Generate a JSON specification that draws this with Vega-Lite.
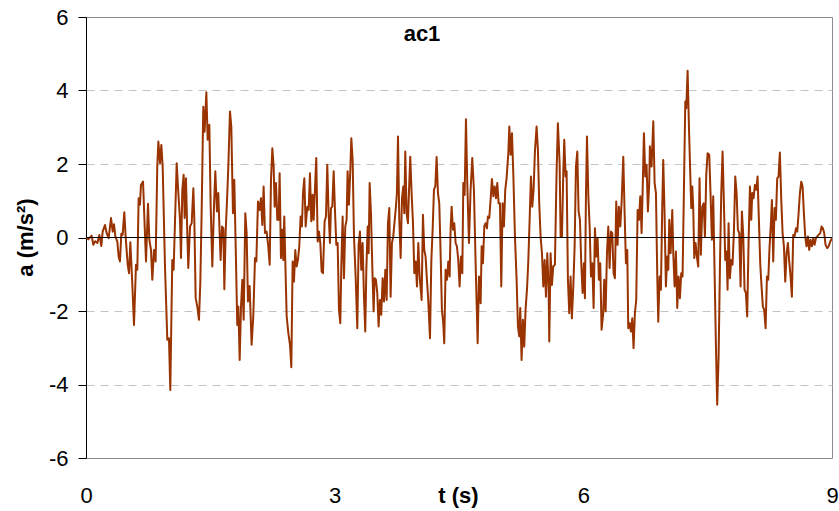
{
  "$schema": "https://vega.github.io/schema/vega-lite/v6.json",
  "width": 746,
  "height": 441,
  "autosize": {"type": "none"},
  "padding": {"left": 86, "top": 17, "right": 7, "bottom": 53},
  "background": "white",
  "title": {"text": "ac1", "font": "Liberation Sans", "fontSize": 22, "fontWeight": "bold", "color": "#000000", "anchor": "middle", "frame": "group", "baseline": "alphabetic", "offset": -35, "dy": 22, "dx": -37},
  "config": {
    "view": {"stroke": "#8c8c8c", "strokeWidth": 1},
    "axis": {"labelFont": "Liberation Sans", "titleFont": "Liberation Sans", "labelColor": "#000000", "titleColor": "#000000"}
  },
  "data": {"values": [
{"t":0.000,"a":0},{"t":0.028,"a":-0.05},{"t":0.068,"a":0.05},{"t":0.088,"a":-0.2},{"t":0.109,"a":-0.1},{"t":0.137,"a":-0.15},{"t":0.161,"a":0.07},{"t":0.185,"a":-0.23},{"t":0.201,"a":0.16},{"t":0.229,"a":0.34},{"t":0.249,"a":0.12},{"t":0.273,"a":-0.02},{"t":0.302,"a":0.53},{"t":0.322,"a":0.16},{"t":0.338,"a":0.36},{"t":0.354,"a":0.03},{"t":0.378,"a":-0.11},{"t":0.394,"a":-0.52},{"t":0.410,"a":-0.65},{"t":0.426,"a":0.1},{"t":0.442,"a":0.07},{"t":0.462,"a":0.69},{"t":0.478,"a":0.03},{"t":0.503,"a":-0.74},{"t":0.519,"a":-0.97},{"t":0.535,"a":-0.13},{"t":0.559,"a":-1.29},{"t":0.579,"a":-2.38},{"t":0.603,"a":-0.74},{"t":0.619,"a":-0.88},{"t":0.635,"a":1.07},{"t":0.651,"a":0.89},{"t":0.663,"a":1.43},{"t":0.688,"a":1.52},{"t":0.708,"a":0.3},{"t":0.724,"a":-0.65},{"t":0.748,"a":0.92},{"t":0.764,"a":-0.06},{"t":0.784,"a":-0.34},{"t":0.800,"a":-1.15},{"t":0.820,"a":-0.34},{"t":0.840,"a":-0.65},{"t":0.860,"a":1.93},{"t":0.873,"a":2.61},{"t":0.893,"a":2.02},{"t":0.909,"a":2.52},{"t":0.925,"a":1.93},{"t":0.953,"a":-0.79},{"t":0.981,"a":-2.78},{"t":1.001,"a":-2.74},{"t":1.017,"a":-4.15},{"t":1.041,"a":-0.61},{"t":1.057,"a":-0.88},
{"t":1.094,"a":2.02},{"t":1.114,"a":1.21},{"t":1.134,"a":0.48},{"t":1.146,"a":-0.56},{"t":1.162,"a":1.3},{"t":1.178,"a":1.71},{"t":1.190,"a":0.53},{"t":1.206,"a":1.61},{"t":1.222,"a":0.12},{"t":1.234,"a":-0.83},{"t":1.255,"a":0.3},{"t":1.275,"a":0.39},{"t":1.295,"a":1.34},{"t":1.307,"a":0.48},{"t":1.323,"a":-1.65},{"t":1.343,"a":-1.88},{"t":1.363,"a":-2.24},{"t":1.379,"a":-1.24},{"t":1.395,"a":0.66},{"t":1.415,"a":3.56},{"t":1.431,"a":2.88},{"t":1.452,"a":3.95},{"t":1.468,"a":2.66},{"t":1.488,"a":3.07},{"t":1.504,"a":0.84},{"t":1.524,"a":-0.79},{"t":1.544,"a":0.84},{"t":1.560,"a":1.8},{"t":1.580,"a":0.71},{"t":1.596,"a":1.21},{"t":1.612,"a":0.12},{"t":1.624,"a":-0.61},{"t":1.641,"a":0.3},{"t":1.657,"a":0.25},{"t":1.669,"a":-1.41},{"t":1.685,"a":0.16},{"t":1.705,"a":1.21},{"t":1.717,"a":1.93},{"t":1.737,"a":3.43},{"t":1.753,"a":3.02},{"t":1.773,"a":0.66},{"t":1.789,"a":1.57},{"t":1.805,"a":-0.15},{"t":1.825,"a":-2.38},{"t":1.838,"a":-1.88},{"t":1.854,"a":-3.33},{"t":1.870,"a":-1.88},{"t":1.886,"a":-1.15},{"t":1.902,"a":-2.24},{"t":1.922,"a":0.66},{"t":1.938,"a":0.12},{"t":1.954,"a":-1.74},{"t":1.974,"a":-1.32},{"t":1.998,"a":-2.92},{"t":2.018,"a":-2.15},{"t":2.039,"a":-0.56},{"t":2.055,"a":-0.65},{"t":2.075,"a":0.98},{"t":2.095,"a":0.75},{"t":2.111,"a":1.07},{"t":2.127,"a":0.34},{"t":2.143,"a":1.39},{"t":2.159,"a":0.12},{"t":2.179,"a":0.16},{"t":2.199,"a":-0.24},{"t":2.216,"a":-0.74},
{"t":2.232,"a":1.57},{"t":2.248,"a":2.43},{"t":2.264,"a":1.93},{"t":2.276,"a":0.84},{"t":2.292,"a":1.48},{"t":2.308,"a":0.48},{"t":2.324,"a":0.48},{"t":2.336,"a":1.75},{"t":2.352,"a":-0.56},{"t":2.368,"a":0.21},{"t":2.380,"a":-0.61},{"t":2.392,"a":0.57},{"t":2.404,"a":-0.61},{"t":2.421,"a":-2.15},{"t":2.441,"a":-2.6},{"t":2.461,"a":-2.92},{"t":2.477,"a":-3.53},{"t":2.493,"a":-0.65},{"t":2.509,"a":-1.2},{"t":2.525,"a":-0.34},{"t":2.541,"a":-0.79},{"t":2.557,"a":-0.61},{"t":2.573,"a":-0.24},{"t":2.589,"a":0.57},{"t":2.605,"a":0.3},{"t":2.618,"a":1.21},{"t":2.634,"a":1.61},{"t":2.650,"a":0.3},{"t":2.670,"a":0.84},{"t":2.686,"a":0.75},{"t":2.702,"a":1.75},{"t":2.718,"a":0.44},{"t":2.734,"a":1.16},{"t":2.746,"a":0.48},{"t":2.762,"a":1.3},{"t":2.778,"a":2.16},{"t":2.795,"a":-0.11},{"t":2.811,"a":0.16},{"t":2.827,"a":-0.15},{"t":2.843,"a":-0.93},{"t":2.859,"a":-0.97},{"t":2.879,"a":0.44},{"t":2.895,"a":0.57},{"t":2.911,"a":1.98},{"t":2.927,"a":0.66},{"t":2.943,"a":-0.15},{"t":2.955,"a":0.8},{"t":2.971,"a":0.84},{"t":2.988,"a":1.8},{"t":3.004,"a":0.71},{"t":3.020,"a":-0.2},{"t":3.036,"a":-0.15},{"t":3.052,"a":-1.97},{"t":3.068,"a":-2.33},{"t":3.080,"a":-0.79},{"t":3.096,"a":0.57},{"t":3.112,"a":-1.11},{"t":3.128,"a":0.3},{"t":3.144,"a":0.48},{"t":3.156,"a":1.8},{"t":3.172,"a":0.89},{"t":3.189,"a":1.84},{"t":3.201,"a":2.7},{"t":3.217,"a":2.11},{"t":3.233,"a":0.03},{"t":3.253,"a":-1.06},{"t":3.273,"a":-2.47},{"t":3.289,"a":-0.2},{"t":3.305,"a":0.16},{"t":3.321,"a":-0.88},{"t":3.337,"a":-0.15},{"t":3.353,"a":-1.56},{"t":3.369,"a":-2.56},
{"t":3.382,"a":-0.88},{"t":3.398,"a":0.3},{"t":3.410,"a":-0.43},{"t":3.422,"a":1.48},{"t":3.438,"a":0.66},{"t":3.454,"a":-0.79},{"t":3.470,"a":-2.01},{"t":3.482,"a":-1.11},{"t":3.498,"a":-1.15},{"t":3.514,"a":-1.51},{"t":3.530,"a":-2.42},{"t":3.546,"a":-1.7},{"t":3.562,"a":-2.1},{"t":3.579,"a":-1.11},{"t":3.595,"a":-1.74},{"t":3.611,"a":-0.88},{"t":3.627,"a":-1.7},{"t":3.643,"a":0.39},{"t":3.659,"a":0.8},{"t":3.675,"a":-1.61},{"t":3.691,"a":-0.15},{"t":3.707,"a":0.03},{"t":3.723,"a":0.44},{"t":3.739,"a":0.84},{"t":3.751,"a":1.21},{"t":3.764,"a":2.75},{"t":3.780,"a":0.44},{"t":3.796,"a":-0.56},{"t":3.812,"a":1.07},{"t":3.828,"a":1.39},{"t":3.840,"a":0.66},{"t":3.852,"a":2.34},{"t":3.868,"a":0.66},{"t":3.884,"a":0.39},{"t":3.896,"a":1.21},{"t":3.912,"a":2.2},{"t":3.928,"a":1.21},{"t":3.945,"a":0.39},{"t":3.961,"a":-0.97},{"t":3.977,"a":-0.65},{"t":3.993,"a":-1.33},{"t":4.009,"a":-0.15},{"t":4.025,"a":-1.06},{"t":4.049,"a":-1.7},{"t":4.065,"a":0.62},{"t":4.081,"a":-0.34},{"t":4.097,"a":-0.52},{"t":4.113,"a":-1.15},{"t":4.129,"a":-1.7},{"t":4.150,"a":-2.74},{"t":4.166,"a":-0.65},{"t":4.182,"a":0.21},{"t":4.198,"a":1.3},{"t":4.214,"a":1.39},{"t":4.230,"a":2.19},{"t":4.246,"a":1.21},{"t":4.262,"a":0.93},{"t":4.278,"a":-0.43},{"t":4.294,"a":-1.97},{"t":4.310,"a":-2.33},{"t":4.322,"a":-2.88},{"t":4.338,"a":-0.88},{"t":4.355,"a":-1.15},{"t":4.371,"a":-0.65},{"t":4.387,"a":-1.06},{"t":4.399,"a":0.25},{"t":4.411,"a":0.84},{"t":4.427,"a":0.21},{"t":4.443,"a":0.39},{"t":4.459,"a":-0.15},{"t":4.475,"a":-0.24},{"t":4.491,"a":-0.61},{"t":4.507,"a":-1.33},
{"t":4.523,"a":-0.52},{"t":4.540,"a":-0.97},{"t":4.552,"a":1.48},{"t":4.568,"a":1.16},{"t":4.584,"a":3.22},{"t":4.600,"a":1.48},{"t":4.620,"a":-0.15},{"t":4.640,"a":1.3},{"t":4.660,"a":2.16},{"t":4.680,"a":1.3},{"t":4.700,"a":-0.65},{"t":4.725,"a":-2.88},{"t":4.741,"a":-1.06},{"t":4.761,"a":-1.79},{"t":4.773,"a":-0.24},{"t":4.789,"a":-0.7},{"t":4.805,"a":0.3},{"t":4.821,"a":0.39},{"t":4.837,"a":0.25},{"t":4.849,"a":0.57},{"t":4.865,"a":0.53},{"t":4.881,"a":1.02},{"t":4.897,"a":1.59},{"t":4.914,"a":1.12},{"t":4.930,"a":1.39},{"t":4.946,"a":1.07},{"t":4.962,"a":1.48},{"t":4.978,"a":0.93},{"t":4.994,"a":0.93},{"t":5.010,"a":-1.33},{"t":5.026,"a":0.93},{"t":5.042,"a":0.3},{"t":5.058,"a":1.3},{"t":5.074,"a":1.61},{"t":5.095,"a":2.29},{"t":5.107,"a":3.02},{"t":5.123,"a":2.25},{"t":5.139,"a":2.84},{"t":5.155,"a":1.75},{"t":5.175,"a":0.03},{"t":5.195,"a":-1.15},{"t":5.211,"a":-2.42},{"t":5.227,"a":-2.69},{"t":5.239,"a":-1.92},{"t":5.255,"a":-3.33},{"t":5.271,"a":-2.24},{"t":5.287,"a":-2.97},{"t":5.304,"a":-1.92},{"t":5.320,"a":-1.42},{"t":5.336,"a":-0.65},{"t":5.352,"a":0.48},{"t":5.368,"a":1.66},{"t":5.384,"a":0.84},{"t":5.400,"a":1.3},{"t":5.416,"a":2.34},{"t":5.436,"a":3.02},{"t":5.452,"a":2.39},{"t":5.468,"a":0.93},{"t":5.484,"a":0.03},{"t":5.501,"a":-0.43},{"t":5.517,"a":-1.33},{"t":5.533,"a":-0.61},{"t":5.549,"a":-1.61},{"t":5.565,"a":-0.43},{"t":5.581,"a":-1.33},{"t":5.589,"a":-2.83},{"t":5.605,"a":-0.43},{"t":5.621,"a":-1.29},{"t":5.637,"a":-0.79},
{"t":5.657,"a":-0.74},{"t":5.677,"a":1.75},{"t":5.693,"a":3.11},{"t":5.714,"a":2.02},{"t":5.726,"a":0.03},{"t":5.742,"a":0.03},{"t":5.758,"a":1.75},{"t":5.770,"a":2.66},{"t":5.786,"a":1.66},{"t":5.798,"a":1.8},{"t":5.814,"a":-1.15},{"t":5.830,"a":-2.06},{"t":5.846,"a":-1.06},{"t":5.862,"a":-2.2},{"t":5.879,"a":-1.33},{"t":5.895,"a":-0.24},{"t":5.911,"a":1.93},{"t":5.927,"a":2.34},{"t":5.943,"a":0.71},{"t":5.959,"a":0.48},{"t":5.975,"a":-0.7},{"t":5.991,"a":-1.51},{"t":6.007,"a":-0.7},{"t":6.019,"a":-1.65},{"t":6.032,"a":1.21},{"t":6.044,"a":2.75},{"t":6.060,"a":1.16},{"t":6.076,"a":0.3},{"t":6.092,"a":-1.06},{"t":6.108,"a":-0.7},{"t":6.124,"a":-1.92},{"t":6.140,"a":0.25},{"t":6.156,"a":-0.52},{"t":6.172,"a":-0.02},{"t":6.188,"a":-1.15},{"t":6.204,"a":-0.7},{"t":6.220,"a":-2.51},{"t":6.240,"a":-2.06},{"t":6.252,"a":-1.15},{"t":6.269,"a":-2.01},{"t":6.285,"a":-0.43},{"t":6.301,"a":0.3},{"t":6.317,"a":-0.83},{"t":6.333,"a":0.16},{"t":6.349,"a":0.12},{"t":6.365,"a":-0.97},{"t":6.381,"a":-1.11},{"t":6.397,"a":0.98},{"t":6.413,"a":-0.2},{"t":6.429,"a":0.84},{"t":6.446,"a":0.3},{"t":6.462,"a":0.98},{"t":6.482,"a":2.2},{"t":6.498,"a":0.66},{"t":6.514,"a":-0.7},{"t":6.530,"a":-0.34},{"t":6.542,"a":-2.47},{"t":6.558,"a":-2.33},{"t":6.574,"a":-2.56},{"t":6.590,"a":-2.2},{"t":6.606,"a":-3.01},{"t":6.622,"a":-2.06},{"t":6.638,"a":-1.7},{"t":6.655,"a":0.75},{"t":6.671,"a":0.48},{"t":6.687,"a":1.12},{"t":6.703,"a":0.12},{"t":6.719,"a":1.61},{"t":6.731,"a":2.84},{"t":6.747,"a":1.66},{"t":6.763,"a":1.98},{"t":6.779,"a":0.71},{"t":6.795,"a":1.48},
{"t":6.803,"a":2.48},{"t":6.823,"a":1.93},{"t":6.844,"a":3.16},{"t":6.860,"a":1.48},{"t":6.876,"a":1.21},{"t":6.892,"a":-1.06},{"t":6.904,"a":-2.29},{"t":6.920,"a":-1.06},{"t":6.936,"a":-1.42},{"t":6.952,"a":0.84},{"t":6.964,"a":2.11},{"t":6.980,"a":0.66},{"t":6.996,"a":-1.33},{"t":7.012,"a":-0.52},{"t":7.025,"a":-0.88},{"t":7.037,"a":0.48},{"t":7.053,"a":-0.43},{"t":7.073,"a":0.75},{"t":7.085,"a":-0.43},{"t":7.101,"a":-1.33},{"t":7.117,"a":-0.38},{"t":7.133,"a":-1.92},{"t":7.149,"a":-1.06},{"t":7.165,"a":-1.65},{"t":7.181,"a":-0.97},{"t":7.197,"a":-1.06},{"t":7.213,"a":1.21},{"t":7.230,"a":3.7},{"t":7.242,"a":3.52},{"t":7.258,"a":4.54},{"t":7.274,"a":3.02},{"t":7.290,"a":1.75},{"t":7.302,"a":0.8},{"t":7.314,"a":1.39},{"t":7.326,"a":0.8},{"t":7.338,"a":-0.56},{"t":7.354,"a":-0.15},{"t":7.370,"a":-0.52},{"t":7.386,"a":-0.79},{"t":7.402,"a":1.61},{"t":7.418,"a":-0.47},{"t":7.435,"a":0.84},{"t":7.451,"a":0.93},{"t":7.467,"a":0.03},{"t":7.483,"a":1.71},{"t":7.499,"a":2.29},{"t":7.519,"a":2.25},{"t":7.535,"a":1.16},{"t":7.551,"a":-0.06},{"t":7.567,"a":1.12},{"t":7.583,"a":-0.88},{"t":7.599,"a":-2.88},{"t":7.615,"a":-4.55},{"t":7.632,"a":-3.24},{"t":7.648,"a":-0.79},{"t":7.664,"a":1.21},{"t":7.680,"a":2.34},{"t":7.696,"a":0.93},{"t":7.712,"a":-0.61},{"t":7.728,"a":-0.38},{"t":7.740,"a":-1.42},{"t":7.752,"a":0.39},{"t":7.768,"a":-1.11},{"t":7.784,"a":-0.61},{"t":7.800,"a":-0.74},{"t":7.816,"a":0.12},{"t":7.833,"a":1.66},{"t":7.849,"a":1.21},{"t":7.865,"a":0.21},{"t":7.881,"a":0.12},{"t":7.897,"a":-1.33},{"t":7.913,"a":0.71},{"t":7.929,"a":0.07},{"t":7.945,"a":-1.42},
{"t":7.961,"a":-1.51},{"t":7.977,"a":-2.15},{"t":7.994,"a":-0.06},{"t":8.010,"a":1.39},{"t":8.026,"a":0.48},{"t":8.038,"a":1.21},{"t":8.054,"a":1.07},{"t":8.070,"a":1.43},{"t":8.086,"a":1.3},{"t":8.102,"a":1.66},{"t":8.118,"a":0.48},{"t":8.134,"a":-0.7},{"t":8.150,"a":-1.33},{"t":8.166,"a":-1.88},{"t":8.182,"a":-1.97},{"t":8.199,"a":-2.47},{"t":8.215,"a":-1.06},{"t":8.231,"a":-1.15},{"t":8.247,"a":-0.24},{"t":8.263,"a":0.39},{"t":8.275,"a":1.02},{"t":8.291,"a":-0.65},{"t":8.307,"a":0.8},{"t":8.323,"a":0.48},{"t":8.339,"a":1.61},{"t":8.355,"a":1.66},{"t":8.371,"a":2.31},{"t":8.388,"a":1.02},{"t":8.404,"a":0.12},{"t":8.420,"a":-0.24},{"t":8.436,"a":-1.2},{"t":8.452,"a":-0.43},{"t":8.468,"a":-0.15},{"t":8.484,"a":-0.65},{"t":8.500,"a":-1.06},{"t":8.516,"a":-1.61},{"t":8.532,"a":0.07},{"t":8.548,"a":0.03},{"t":8.565,"a":0.25},{"t":8.581,"a":0.16},{"t":8.597,"a":0.66},{"t":8.613,"a":1.21},{"t":8.629,"a":1.52},{"t":8.645,"a":1.39},{"t":8.661,"a":0.66},{"t":8.677,"a":0.03},{"t":8.693,"a":-0.24},{"t":8.709,"a":0.03},{"t":8.725,"a":-0.34},{"t":8.741,"a":-0.06},{"t":8.758,"a":-0.24},{"t":8.774,"a":-0.02},{"t":8.790,"a":-0.2},{"t":8.806,"a":-0.02},{"t":8.822,"a":0.03},{"t":8.838,"a":0.07},{"t":8.858,"a":0.12},{"t":8.874,"a":0.3},{"t":8.890,"a":0.25},{"t":8.906,"a":0.12},{"t":8.922,"a":-0.2},{"t":8.942,"a":-0.29},{"t":8.959,"a":-0.24},{"t":8.979,"a":-0.11},{"t":9.0,"a":-0.02}
  ]},
  "layer": [
    {
      "mark": {"type": "line", "color": "#993300", "strokeWidth": 2, "strokeJoin": "round", "clip": true},
      "encoding": {
        "x": {"field": "t", "type": "quantitative", "scale": {"domain": [0, 9], "nice": false, "zero": false},
          "axis": {"values": [0, 3, 6, 9], "title": "t (s)", "grid": false, "domain": false, "ticks": false, "tickSize": 0,
            "labelFontSize": 22, "labelPadding": 44, "labelBaseline": "alphabetic", "labelFlush": false,
            "titleFontSize": 22, "titleFontWeight": "bold", "titleX": 372, "titleY": 44, "titleBaseline": "alphabetic", "titleAlign": "center", "titleAnchor": null}},
        "y": {"field": "a", "type": "quantitative", "scale": {"domain": [-6, 6], "nice": false},
          "axis": {"values": [-6, -4, -2, 0, 2, 4, 6], "title": "a (m/s²)",
            "labelExpr": "datum.value < 0 ? '-' + abs(datum.value) : '' + datum.value",
            "grid": true, "gridColor": "#c4c4c4", "gridDash": [8, 6], "gridWidth": 1,
            "gridOpacity": {"condition": {"test": "datum.value == 0 || abs(datum.value) == 6", "value": 0}, "value": 1},
            "domain": true, "domainColor": "#000000", "domainWidth": 1,
            "ticks": true, "tickSize": 8, "tickColor": "#000000", "tickWidth": 1,
            "labelFontSize": 22, "labelPadding": 10, "labelFlush": false,
            "titleFontSize": 22, "titleFontWeight": "bold", "titleX": -61, "titleY": 220, "titleAngle": -90, "titleAlign": "center", "titleBaseline": "middle", "titleAnchor": null}}
      }
    },
    {
      "mark": {"type": "rule", "color": "#000000", "strokeWidth": 1},
      "encoding": {"y": {"datum": 0, "type": "quantitative"}}
    }
  ]
}
